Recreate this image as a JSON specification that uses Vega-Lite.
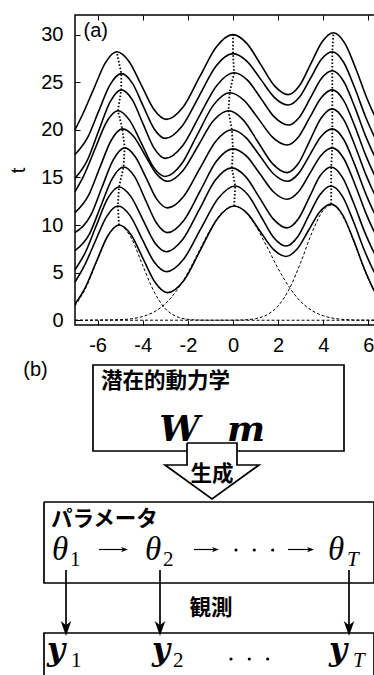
{
"$schema": "https://vega.github.io/schema/vega-lite/v6.json",
"padding": {"left": 8, "top": 13, "right": 0, "bottom": 0},
"background": "white",
"spacing": 4,
"config": {"font": "Liberation Sans", "view": {"stroke": null}, "axis": {"labelColor": "black", "tickColor": "black", "titleColor": "black", "labelFont": "Liberation Sans", "titleFont": "Liberation Sans"}},
"datasets": {
"curves": [
{"c":0,"x":-7,"t":1.7},{"c":0,"x":-6.55,"t":3.41},{"c":0,"x":-6.05,"t":6.17},{"c":0,"x":-5.55,"t":8.85},{"c":0,"x":-5.05,"t":10.0},{"c":0,"x":-4.51,"t":8.96},{"c":0,"x":-3.98,"t":6.45},{"c":0,"x":-3.44,"t":3.94},{"c":0,"x":-2.9,"t":2.9},{"c":0,"x":-2.16,"t":4.23},{"c":0,"x":-1.43,"t":7.45},{"c":0,"x":-0.69,"t":10.67},{"c":0,"x":0.05,"t":12.0},{"c":0,"x":0.63,"t":11.23},{"c":0,"x":1.2,"t":9.35},{"c":0,"x":1.78,"t":7.47},{"c":0,"x":2.35,"t":6.7},{"c":0,"x":2.85,"t":7.5},{"c":0,"x":3.35,"t":9.45},{"c":0,"x":3.85,"t":11.4},{"c":0,"x":4.35,"t":12.2},{"c":0,"x":4.85,"t":11.1},{"c":0,"x":5.35,"t":8.36},{"c":0,"x":5.85,"t":5.21},{"c":0,"x":6.35,"t":2.68},{"c":0,"x":7,"t":0.86},
{"c":1,"x":-7,"t":4.0},{"c":1,"x":-6.6,"t":5.65},{"c":1,"x":-6.1,"t":8.3},{"c":1,"x":-5.6,"t":10.89},{"c":1,"x":-5.1,"t":12.0},{"c":1,"x":-4.56,"t":10.99},{"c":1,"x":-4.03,"t":8.55},{"c":1,"x":-3.49,"t":6.11},{"c":1,"x":-2.95,"t":5.1},{"c":1,"x":-2.19,"t":6.41},{"c":1,"x":-1.43,"t":9.6},{"c":1,"x":-0.66,"t":12.79},{"c":1,"x":0.1,"t":14.1},{"c":1,"x":0.66,"t":13.18},{"c":1,"x":1.23,"t":10.95},{"c":1,"x":1.79,"t":8.72},{"c":1,"x":2.35,"t":7.8},{"c":1,"x":2.85,"t":8.72},{"c":1,"x":3.35,"t":10.95},{"c":1,"x":3.85,"t":13.18},{"c":1,"x":4.35,"t":14.1},{"c":1,"x":4.85,"t":13.01},{"c":1,"x":5.35,"t":10.29},{"c":1,"x":5.85,"t":7.17},{"c":1,"x":6.35,"t":4.66},{"c":1,"x":7,"t":2.85},
{"c":2,"x":-7,"t":5.3},{"c":2,"x":-6.55,"t":7.09},{"c":2,"x":-6.05,"t":9.98},{"c":2,"x":-5.55,"t":12.79},{"c":2,"x":-5.05,"t":14.0},{"c":2,"x":-4.53,"t":13.01},{"c":2,"x":-4.0,"t":10.6},{"c":2,"x":-3.48,"t":8.19},{"c":2,"x":-2.95,"t":7.2},{"c":2,"x":-2.23,"t":8.48},{"c":2,"x":-1.5,"t":11.6},{"c":2,"x":-0.78,"t":14.72},{"c":2,"x":-0.05,"t":16.0},{"c":2,"x":0.56,"t":15.08},{"c":2,"x":1.18,"t":12.85},{"c":2,"x":1.79,"t":10.62},{"c":2,"x":2.4,"t":9.7},{"c":2,"x":2.89,"t":10.63},{"c":2,"x":3.38,"t":12.9},{"c":2,"x":3.86,"t":15.17},{"c":2,"x":4.35,"t":16.1},{"c":2,"x":4.85,"t":15.01},{"c":2,"x":5.35,"t":12.29},{"c":2,"x":5.85,"t":9.17},{"c":2,"x":6.35,"t":6.66},{"c":2,"x":7,"t":4.85},
{"c":3,"x":-7,"t":7.3},{"c":3,"x":-6.35,"t":9.11},{"c":3,"x":-5.85,"t":12.03},{"c":3,"x":-5.35,"t":14.88},{"c":3,"x":-4.85,"t":16.1},{"c":3,"x":-4.36,"t":15.09},{"c":3,"x":-3.88,"t":12.65},{"c":3,"x":-3.39,"t":10.21},{"c":3,"x":-2.9,"t":9.2},{"c":3,"x":-2.18,"t":10.48},{"c":3,"x":-1.45,"t":13.6},{"c":3,"x":-0.73,"t":16.72},{"c":3,"x":0,"t":18.0},{"c":3,"x":0.6,"t":17.23},{"c":3,"x":1.2,"t":15.35},{"c":3,"x":1.8,"t":13.47},{"c":3,"x":2.4,"t":12.7},{"c":3,"x":2.9,"t":13.49},{"c":3,"x":3.4,"t":15.4},{"c":3,"x":3.9,"t":17.31},{"c":3,"x":4.4,"t":18.1},{"c":3,"x":4.9,"t":17.01},{"c":3,"x":5.4,"t":14.29},{"c":3,"x":5.9,"t":11.17},{"c":3,"x":6.4,"t":8.66},{"c":3,"x":7,"t":6.94},
{"c":4,"x":-7,"t":9.2},{"c":4,"x":-6.3,"t":11.03},{"c":4,"x":-5.8,"t":13.99},{"c":4,"x":-5.3,"t":16.86},{"c":4,"x":-4.8,"t":18.1},{"c":4,"x":-4.33,"t":17.18},{"c":4,"x":-3.85,"t":14.95},{"c":4,"x":-3.38,"t":12.72},{"c":4,"x":-2.9,"t":11.8},{"c":4,"x":-2.19,"t":13.0},{"c":4,"x":-1.48,"t":15.9},{"c":4,"x":-0.76,"t":18.8},{"c":4,"x":-0.05,"t":20.0},{"c":4,"x":0.56,"t":19.21},{"c":4,"x":1.18,"t":17.3},{"c":4,"x":1.79,"t":15.39},{"c":4,"x":2.4,"t":14.6},{"c":4,"x":2.9,"t":15.4},{"c":4,"x":3.4,"t":17.35},{"c":4,"x":3.9,"t":19.3},{"c":4,"x":4.4,"t":20.1},{"c":4,"x":4.9,"t":19.01},{"c":4,"x":5.4,"t":16.29},{"c":4,"x":5.9,"t":13.17},{"c":4,"x":6.4,"t":10.66},{"c":4,"x":7,"t":8.94},
{"c":5,"x":-7,"t":11.3},{"c":5,"x":-6.4,"t":13.11},{"c":5,"x":-5.9,"t":16.03},{"c":5,"x":-5.4,"t":18.88},{"c":5,"x":-4.9,"t":20.1},{"c":5,"x":-4.4,"t":19.3},{"c":5,"x":-3.9,"t":17.35},{"c":5,"x":-3.4,"t":15.4},{"c":5,"x":-2.9,"t":14.6},{"c":5,"x":-2.23,"t":15.68},{"c":5,"x":-1.55,"t":18.3},{"c":5,"x":-0.88,"t":20.92},{"c":5,"x":-0.2,"t":22.0},{"c":5,"x":0.45,"t":21.05},{"c":5,"x":1.1,"t":18.75},{"c":5,"x":1.75,"t":16.45},{"c":5,"x":2.4,"t":15.5},{"c":5,"x":2.9,"t":16.48},{"c":5,"x":3.4,"t":18.85},{"c":5,"x":3.9,"t":21.22},{"c":5,"x":4.4,"t":22.2},{"c":5,"x":4.9,"t":21.1},{"c":5,"x":5.4,"t":18.36},{"c":5,"x":5.9,"t":15.21},{"c":5,"x":6.4,"t":12.68},{"c":5,"x":7,"t":10.95},
{"c":6,"x":-7,"t":13.5},{"c":6,"x":-6.6,"t":15.25},{"c":6,"x":-6.1,"t":18.07},{"c":6,"x":-5.6,"t":20.82},{"c":6,"x":-5.1,"t":22.0},{"c":6,"x":-4.58,"t":20.99},{"c":6,"x":-4.05,"t":18.55},{"c":6,"x":-3.53,"t":16.11},{"c":6,"x":-3.0,"t":15.1},{"c":6,"x":-2.29,"t":16.38},{"c":6,"x":-1.58,"t":19.5},{"c":6,"x":-0.86,"t":22.62},{"c":6,"x":-0.15,"t":23.9},{"c":6,"x":0.49,"t":23.1},{"c":6,"x":1.13,"t":21.15},{"c":6,"x":1.76,"t":19.2},{"c":6,"x":2.4,"t":18.4},{"c":6,"x":2.9,"t":19.25},{"c":6,"x":3.4,"t":21.3},{"c":6,"x":3.9,"t":23.35},{"c":6,"x":4.4,"t":24.2},{"c":6,"x":4.9,"t":23.1},{"c":6,"x":5.4,"t":20.36},{"c":6,"x":5.9,"t":17.21},{"c":6,"x":6.4,"t":14.68},{"c":6,"x":7,"t":12.95},
{"c":7,"x":-7,"t":14.9},{"c":7,"x":-6.45,"t":16.82},{"c":7,"x":-5.95,"t":19.9},{"c":7,"x":-5.45,"t":22.91},{"c":7,"x":-4.95,"t":24.2},{"c":7,"x":-4.46,"t":23.15},{"c":7,"x":-3.98,"t":20.6},{"c":7,"x":-3.49,"t":18.05},{"c":7,"x":-3.0,"t":17.0},{"c":7,"x":-2.24,"t":18.31},{"c":7,"x":-1.48,"t":21.5},{"c":7,"x":-0.71,"t":24.69},{"c":7,"x":0.05,"t":26.0},{"c":7,"x":0.65,"t":25.2},{"c":7,"x":1.25,"t":23.25},{"c":7,"x":1.85,"t":21.3},{"c":7,"x":2.45,"t":20.5},{"c":7,"x":2.94,"t":21.33},{"c":7,"x":3.43,"t":23.35},{"c":7,"x":3.91,"t":25.37},{"c":7,"x":4.4,"t":26.2},{"c":7,"x":4.9,"t":25.1},{"c":7,"x":5.4,"t":22.36},{"c":7,"x":5.9,"t":19.21},{"c":7,"x":6.4,"t":16.68},{"c":7,"x":7,"t":14.95},
{"c":8,"x":-7,"t":17.4},{"c":8,"x":-6.45,"t":19.15},{"c":8,"x":-5.95,"t":21.97},{"c":8,"x":-5.45,"t":24.72},{"c":8,"x":-4.95,"t":25.9},{"c":8,"x":-4.46,"t":24.91},{"c":8,"x":-3.98,"t":22.5},{"c":8,"x":-3.49,"t":20.09},{"c":8,"x":-3.0,"t":19.1},{"c":8,"x":-2.25,"t":20.4},{"c":8,"x":-1.5,"t":23.55},{"c":8,"x":-0.75,"t":26.7},{"c":8,"x":0,"t":28.0},{"c":8,"x":0.61,"t":27.21},{"c":8,"x":1.23,"t":25.3},{"c":8,"x":1.84,"t":23.39},{"c":8,"x":2.45,"t":22.6},{"c":8,"x":2.94,"t":23.42},{"c":8,"x":3.43,"t":25.4},{"c":8,"x":3.91,"t":27.38},{"c":8,"x":4.4,"t":28.2},{"c":8,"x":4.9,"t":27.1},{"c":8,"x":5.4,"t":24.36},{"c":8,"x":5.9,"t":21.21},{"c":8,"x":6.4,"t":18.68},{"c":8,"x":7,"t":16.95},
{"c":9,"x":-7,"t":20.0},{"c":9,"x":-6.65,"t":21.69},{"c":9,"x":-6.15,"t":24.41},{"c":9,"x":-5.65,"t":27.06},{"c":9,"x":-5.15,"t":28.2},{"c":9,"x":-4.6,"t":27.16},{"c":9,"x":-4.05,"t":24.65},{"c":9,"x":-3.5,"t":22.14},{"c":9,"x":-2.95,"t":21.1},{"c":9,"x":-2.21,"t":22.4},{"c":9,"x":-1.48,"t":25.55},{"c":9,"x":-0.74,"t":28.7},{"c":9,"x":0,"t":30.0},{"c":9,"x":0.61,"t":29.08},{"c":9,"x":1.23,"t":26.85},{"c":9,"x":1.84,"t":24.62},{"c":9,"x":2.45,"t":23.7},{"c":9,"x":2.95,"t":24.65},{"c":9,"x":3.45,"t":26.95},{"c":9,"x":3.95,"t":29.25},{"c":9,"x":4.45,"t":30.2},{"c":9,"x":4.95,"t":29.1},{"c":9,"x":5.45,"t":26.36},{"c":9,"x":5.95,"t":23.21},{"c":9,"x":6.45,"t":20.68},{"c":9,"x":7,"t":19.04}
],
"peaks": [
{"k":"L","x":-5.05,"t":10.0},{"k":"L","x":-5.1,"t":12.0},{"k":"L","x":-5.05,"t":14.0},{"k":"L","x":-4.85,"t":16.1},{"k":"L","x":-4.8,"t":18.1},{"k":"L","x":-4.9,"t":20.1},{"k":"L","x":-5.1,"t":22.0},{"k":"L","x":-4.95,"t":24.2},{"k":"L","x":-4.95,"t":25.9},{"k":"L","x":-5.15,"t":28.2},
{"k":"M","x":0.05,"t":12.0},{"k":"M","x":0.1,"t":14.1},{"k":"M","x":-0.05,"t":16.0},{"k":"M","x":0,"t":18.0},{"k":"M","x":-0.05,"t":20.0},{"k":"M","x":-0.2,"t":22.0},{"k":"M","x":-0.15,"t":23.9},{"k":"M","x":0.05,"t":26.0},{"k":"M","x":0,"t":28.0},{"k":"M","x":0,"t":30.0},
{"k":"R","x":4.35,"t":12.2},{"k":"R","x":4.35,"t":14.1},{"k":"R","x":4.35,"t":16.1},{"k":"R","x":4.4,"t":18.1},{"k":"R","x":4.4,"t":20.1},{"k":"R","x":4.4,"t":22.2},{"k":"R","x":4.4,"t":24.2},{"k":"R","x":4.4,"t":26.2},{"k":"R","x":4.4,"t":28.2},{"k":"R","x":4.45,"t":30.2}
],
"gauss": [
{"g":1,"x":-7,"t":1.5},{"g":1,"x":-6.5,"t":3.5},{"g":1,"x":-6,"t":6.37},{"g":1,"x":-5.5,"t":9.04},{"g":1,"x":-5.05,"t":10.0},{"g":1,"x":-4.5,"t":8.6},{"g":1,"x":-4,"t":5.76},{"g":1,"x":-3.5,"t":3.01},{"g":1,"x":-3,"t":1.22},{"g":1,"x":-2.5,"t":0.39},{"g":1,"x":-2,"t":0.1},{"g":1,"x":-1.5,"t":0.02},{"g":1,"x":-1,"t":0},{"g":1,"x":7,"t":0},
{"g":2,"x":-7,"t":0},{"g":2,"x":-5,"t":0.06},{"g":2,"x":-4.5,"t":0.16},{"g":2,"x":-4,"t":0.39},{"g":2,"x":-3.5,"t":0.87},{"g":2,"x":-3,"t":1.73},{"g":2,"x":-2.5,"t":3.1},{"g":2,"x":-2,"t":5.0},{"g":2,"x":-1.5,"t":7.28},{"g":2,"x":-1,"t":9.54},{"g":2,"x":-0.5,"t":11.27},{"g":2,"x":0.05,"t":12.0},{"g":2,"x":0.5,"t":11.5},{"g":2,"x":1,"t":9.94},{"g":2,"x":1.5,"t":7.74},{"g":2,"x":2,"t":5.43},{"g":2,"x":2.5,"t":3.44},{"g":2,"x":3,"t":1.96},{"g":2,"x":3.5,"t":1.01},{"g":2,"x":4,"t":0.47},{"g":2,"x":4.5,"t":0.19},{"g":2,"x":5,"t":0.07},{"g":2,"x":5.5,"t":0.02},{"g":2,"x":7,"t":0},
{"g":3,"x":-7,"t":0},{"g":3,"x":0,"t":0.01},{"g":3,"x":0.5,"t":0.04},{"g":3,"x":1,"t":0.17},{"g":3,"x":1.5,"t":0.56},{"g":3,"x":2,"t":1.5},{"g":3,"x":2.5,"t":3.32},{"g":3,"x":3,"t":6.07},{"g":3,"x":3.5,"t":9.21},{"g":3,"x":4,"t":11.55},{"g":3,"x":4.35,"t":12.1},{"g":3,"x":4.5,"t":12.0},{"g":3,"x":5,"t":10.31},{"g":3,"x":5.5,"t":7.34},{"g":3,"x":6,"t":4.32},{"g":3,"x":6.5,"t":2.11},{"g":3,"x":7,"t":0.85}
],
"paths": [
{"p":"box1","o":1,"X":186,"Y":448},{"p":"box1","o":2,"X":92,"Y":448},{"p":"box1","o":3,"X":92,"Y":362},{"p":"box1","o":4,"X":343,"Y":362},{"p":"box1","o":5,"X":343,"Y":448},{"p":"box1","o":6,"X":236,"Y":448},
{"p":"arrow","o":1,"X":186,"Y":440},{"p":"arrow","o":2,"X":236,"Y":440},{"p":"arrow","o":3,"X":236,"Y":462},{"p":"arrow","o":4,"X":258,"Y":462},{"p":"arrow","o":5,"X":211,"Y":496},{"p":"arrow","o":6,"X":164,"Y":462},{"p":"arrow","o":7,"X":186,"Y":462},{"p":"arrow","o":8,"X":186,"Y":440},
{"p":"box2","o":1,"X":43,"Y":499},{"p":"box2","o":2,"X":373,"Y":499},{"p":"box2","o":3,"X":373,"Y":580},{"p":"box2","o":4,"X":43,"Y":580},{"p":"box2","o":5,"X":43,"Y":499},
{"p":"box3","o":1,"X":43,"Y":690},{"p":"box3","o":2,"X":43,"Y":630},{"p":"box3","o":3,"X":373,"Y":630},{"p":"box3","o":4,"X":373,"Y":690},
{"p":"v1","o":1,"X":65,"Y":567},{"p":"v1","o":2,"X":65,"Y":628},
{"p":"v2","o":1,"X":159,"Y":567},{"p":"v2","o":2,"X":159,"Y":628},
{"p":"v3","o":1,"X":348,"Y":567},{"p":"v3","o":2,"X":348,"Y":628}
],
"harrows": [
{"p":"a1","o":1,"X":98,"Y":546.5},{"p":"a1","o":2,"X":124,"Y":546.5},
{"p":"a2","o":1,"X":193,"Y":546.5},{"p":"a2","o":2,"X":215,"Y":546.5},
{"p":"a3","o":1,"X":287,"Y":546.5},{"p":"a3","o":2,"X":310,"Y":546.5}
]
},
"vconcat": [
{
"width": 316, "height": 310,
"view": {"stroke": "black", "strokeWidth": 1.5},
"resolve": {"axis": {"x": "independent"}},
"layer": [
{"data": {"name": "curves"}, "mark": {"type": "line", "interpolate": "monotone", "color": "black", "strokeWidth": 1.6},
 "encoding": {
  "x": {"field": "x", "type": "quantitative", "scale": {"domain": [-7, 7], "nice": false, "zero": false}, "axis": {"values": [-6,-4,-2,0,2,4,6], "labelExpr": "'' + datum.value", "title": null, "grid": false, "domain": false, "tickSize": -5, "labelPadding": 15, "labelFontSize": 20, "labelFlush": false, "labelOverlap": false}},
  "y": {"field": "t", "type": "quantitative", "scale": {"domain": [-0.5, 32.06], "nice": false, "zero": false}, "axis": {"values": [0,5,10,15,20,25,30], "title": "t", "titleFontSize": 20, "titleFontWeight": "normal", "titlePadding": 12, "grid": false, "domain": false, "tickSize": -5, "labelPadding": 17, "labelFontSize": 20}},
  "detail": {"field": "c", "type": "nominal"}
 }},
{"data": {"name": "peaks"}, "mark": {"type": "line", "color": "black", "strokeWidth": 1.8, "strokeDash": [1.5, 2]},
 "encoding": {
  "x": {"field": "x", "type": "quantitative", "scale": {"domain": [-7, 7], "nice": false, "zero": false}, "axis": null},
  "y": {"field": "t", "type": "quantitative", "scale": {"domain": [-0.5, 32.06], "nice": false, "zero": false}},
  "detail": {"field": "k", "type": "nominal"},
  "order": {"field": "t", "type": "quantitative"}
 }},
{"data": {"name": "gauss"}, "mark": {"type": "line", "interpolate": "monotone", "color": "black", "strokeWidth": 1, "strokeDash": [3, 2]},
 "encoding": {
  "x": {"field": "x", "type": "quantitative", "scale": {"domain": [-7, 7], "nice": false, "zero": false}, "axis": {"orient": "top", "values": [-6,-4,-2,0,2,4,6], "labels": false, "domain": false, "grid": false, "tickSize": -5, "title": null}},
  "y": {"field": "t", "type": "quantitative", "scale": {"domain": [-0.5, 32.06], "nice": false, "zero": false}},
  "detail": {"field": "g", "type": "nominal"}
 }},
{"data": {"values": [{"label": "(a)", "x": -6.62, "t": 30.4}]}, "mark": {"type": "text", "align": "left", "baseline": "middle", "fontSize": 20, "font": "Liberation Sans", "color": "black"},
 "encoding": {
  "x": {"field": "x", "type": "quantitative", "scale": {"domain": [-7, 7], "nice": false, "zero": false}, "axis": null},
  "y": {"field": "t", "type": "quantitative", "scale": {"domain": [-0.5, 32.06], "nice": false, "zero": false}},
  "text": {"field": "label"}
 }}
]
},
{
"width": 316, "height": 318,
"view": {"stroke": null},
"layer": [
{"data": {"name": "paths"}, "mark": {"type": "line", "color": "black", "strokeWidth": 1.7},
 "encoding": {
  "x": {"field": "X", "type": "quantitative", "scale": {"domain": [74, 390], "nice": false, "zero": false}, "axis": null},
  "y": {"field": "Y", "type": "quantitative", "scale": {"domain": [357, 675], "nice": false, "zero": false, "reverse": true}, "axis": null},
  "detail": {"field": "p", "type": "nominal"},
  "order": {"field": "o", "type": "quantitative"}
 }},
{"data": {"name": "harrows"}, "mark": {"type": "line", "color": "black", "strokeWidth": 1.2},
 "encoding": {
  "x": {"field": "X", "type": "quantitative", "scale": {"domain": [74, 390], "nice": false, "zero": false}, "axis": null},
  "y": {"field": "Y", "type": "quantitative", "scale": {"domain": [357, 675], "nice": false, "zero": false, "reverse": true}, "axis": null},
  "detail": {"field": "p", "type": "nominal"},
  "order": {"field": "o", "type": "quantitative"}
 }},
{"data": {"values": [{"X": 123.5, "Y": 546.5}, {"X": 214.5, "Y": 546.5}, {"X": 309.5, "Y": 546.5}]},
 "mark": {"type": "point", "shape": "M1,0L-1,-0.75L-0.45,0L-1,0.75Z", "filled": true, "color": "black", "opacity": 1, "size": 49, "strokeWidth": 0},
 "encoding": {
  "x": {"field": "X", "type": "quantitative", "scale": {"domain": [74, 390], "nice": false, "zero": false}, "axis": null},
  "y": {"field": "Y", "type": "quantitative", "scale": {"domain": [357, 675], "nice": false, "zero": false, "reverse": true}, "axis": null}
 }},
{"data": {"values": [{"X": 65, "Y": 625.5}, {"X": 159, "Y": 625.5}, {"X": 348, "Y": 625.5}]},
 "mark": {"type": "point", "shape": "M0,1L-0.7,-1L0,-0.45L0.7,-1Z", "filled": true, "color": "black", "opacity": 1, "size": 225, "strokeWidth": 0},
 "encoding": {
  "x": {"field": "X", "type": "quantitative", "scale": {"domain": [74, 390], "nice": false, "zero": false}, "axis": null},
  "y": {"field": "Y", "type": "quantitative", "scale": {"domain": [357, 675], "nice": false, "zero": false, "reverse": true}, "axis": null}
 }},
{"data": {"values": [{"X": 235, "Y": 547}, {"X": 253.3, "Y": 547}, {"X": 271.7, "Y": 547}, {"X": 230, "Y": 656}, {"X": 248.3, "Y": 656}, {"X": 266.7, "Y": 656}]},
 "mark": {"type": "point", "shape": "circle", "filled": true, "color": "black", "opacity": 1, "size": 10, "strokeWidth": 0},
 "encoding": {
  "x": {"field": "X", "type": "quantitative", "scale": {"domain": [74, 390], "nice": false, "zero": false}, "axis": null},
  "y": {"field": "Y", "type": "quantitative", "scale": {"domain": [357, 675], "nice": false, "zero": false, "reverse": true}, "axis": null}
 }},
{"data": {"values": [{"s": "(b)", "X": 34.5, "Y": 367}]},
 "mark": {"type": "text", "align": "center", "baseline": "middle", "font": "Liberation Sans", "fontSize": 20, "color": "black"},
 "encoding": {
  "x": {"field": "X", "type": "quantitative", "scale": {"domain": [74, 390], "nice": false, "zero": false}, "axis": null},
  "y": {"field": "Y", "type": "quantitative", "scale": {"domain": [357, 675], "nice": false, "zero": false, "reverse": true}, "axis": null},
  "text": {"field": "s"}
 }},
{"data": {"values": [{"s": "潜在的動力学", "X": 100, "Y": 378.7}, {"s": "生成", "X": 189.5, "Y": 471.7}, {"s": "パラメータ", "X": 50, "Y": 516.7}, {"s": "観測", "X": 188.5, "Y": 605.7}]},
 "mark": {"type": "text", "align": "left", "baseline": "middle", "font": "Noto Sans CJK JP", "fontWeight": "bold", "fontSize": 21.5, "color": "black"},
 "encoding": {
  "x": {"field": "X", "type": "quantitative", "scale": {"domain": [74, 390], "nice": false, "zero": false}, "axis": null},
  "y": {"field": "Y", "type": "quantitative", "scale": {"domain": [357, 675], "nice": false, "zero": false, "reverse": true}, "axis": null},
  "text": {"field": "s"}
 }},
{"data": {"values": [{"s": "W", "X": 178.5, "Y": 438}, {"s": "m", "X": 245, "Y": 438}]},
 "mark": {"type": "text", "align": "center", "baseline": "alphabetic", "font": "DejaVu Serif", "fontWeight": "bold", "fontStyle": "italic", "fontSize": 36, "color": "black"},
 "encoding": {
  "x": {"field": "X", "type": "quantitative", "scale": {"domain": [74, 390], "nice": false, "zero": false}, "axis": null},
  "y": {"field": "Y", "type": "quantitative", "scale": {"domain": [357, 675], "nice": false, "zero": false, "reverse": true}, "axis": null},
  "text": {"field": "s"}
 }},
{"data": {"values": [{"s": "θ", "X": 51, "Y": 557}, {"s": "θ", "X": 144, "Y": 557}, {"s": "θ", "X": 327, "Y": 557}]},
 "mark": {"type": "text", "align": "left", "baseline": "alphabetic", "font": "Liberation Serif", "fontStyle": "italic", "fontSize": 33, "color": "black"},
 "encoding": {
  "x": {"field": "X", "type": "quantitative", "scale": {"domain": [74, 390], "nice": false, "zero": false}, "axis": null},
  "y": {"field": "Y", "type": "quantitative", "scale": {"domain": [357, 675], "nice": false, "zero": false, "reverse": true}, "axis": null},
  "text": {"field": "s"}
 }},
{"data": {"values": [{"s": "1", "X": 69, "Y": 563}, {"s": "2", "X": 162, "Y": 563}, {"s": "1", "X": 70, "Y": 664}, {"s": "2", "X": 172, "Y": 664}]},
 "mark": {"type": "text", "align": "left", "baseline": "alphabetic", "font": "Liberation Serif", "fontSize": 21, "color": "black"},
 "encoding": {
  "x": {"field": "X", "type": "quantitative", "scale": {"domain": [74, 390], "nice": false, "zero": false}, "axis": null},
  "y": {"field": "Y", "type": "quantitative", "scale": {"domain": [357, 675], "nice": false, "zero": false, "reverse": true}, "axis": null},
  "text": {"field": "s"}
 }},
{"data": {"values": [{"s": "T", "X": 346, "Y": 563}, {"s": "T", "X": 352, "Y": 664}]},
 "mark": {"type": "text", "align": "left", "baseline": "alphabetic", "font": "Liberation Serif", "fontStyle": "italic", "fontSize": 21, "color": "black"},
 "encoding": {
  "x": {"field": "X", "type": "quantitative", "scale": {"domain": [74, 390], "nice": false, "zero": false}, "axis": null},
  "y": {"field": "Y", "type": "quantitative", "scale": {"domain": [357, 675], "nice": false, "zero": false, "reverse": true}, "axis": null},
  "text": {"field": "s"}
 }},
{"data": {"values": [{"s": "y", "X": 46, "Y": 657}, {"s": "y", "X": 151, "Y": 657}, {"s": "y", "X": 328, "Y": 657}]},
 "mark": {"type": "text", "align": "left", "baseline": "alphabetic", "font": "DejaVu Serif", "fontWeight": "bold", "fontStyle": "italic", "fontSize": 31, "color": "black"},
 "encoding": {
  "x": {"field": "X", "type": "quantitative", "scale": {"domain": [74, 390], "nice": false, "zero": false}, "axis": null},
  "y": {"field": "Y", "type": "quantitative", "scale": {"domain": [357, 675], "nice": false, "zero": false, "reverse": true}, "axis": null},
  "text": {"field": "s"}
 }}
]
}
]
}
